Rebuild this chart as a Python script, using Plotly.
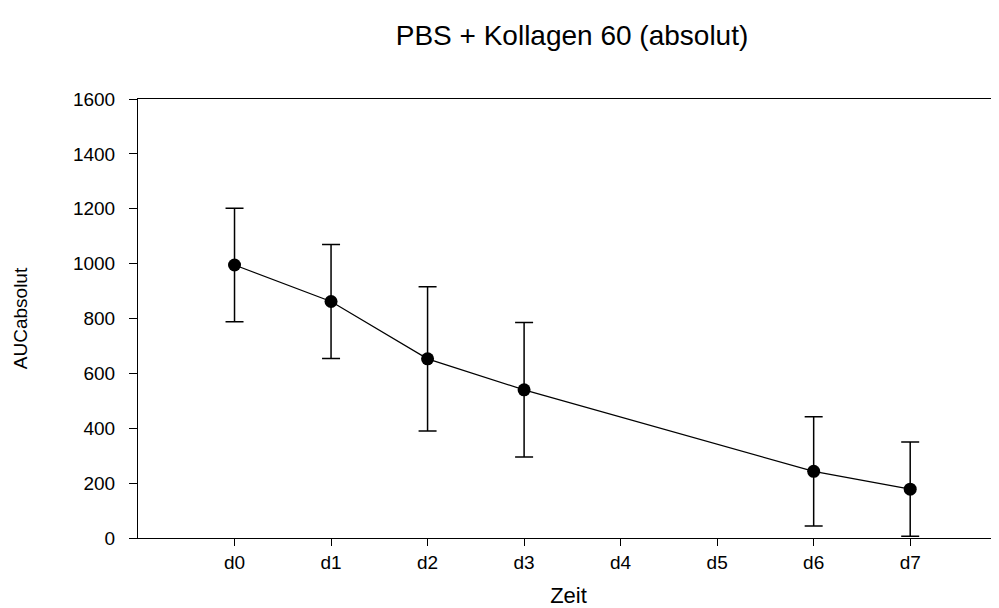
import plotly.graph_objects as go

categories = ["d0", "d1", "d2", "d3", "d4", "d5", "d6", "d7"]
auc_mean = [995, 862, 653, 540, None, None, 243, 178]
auc_err = [207, 208, 263, 245, None, None, 199, 172]
y_ticks = [0, 200, 400, 600, 800, 1000, 1200, 1400, 1600]

FONT = "Liberation Sans, Arial, sans-serif"
W, H = 991, 600

fig = go.Figure()
fig.add_trace(go.Scatter(
    x=categories, y=auc_mean,
    mode="lines+markers",
    connectgaps=True,
    line=dict(color="black", width=1.2),
    marker=dict(color="black", size=13, symbol="circle"),
    error_y=dict(type="data", array=auc_err, visible=True,
                 color="black", thickness=1.5, width=9),
    showlegend=False,
))

fig.update_layout(
    width=W, height=H,
    margin=dict(l=130, r=0, t=91, b=70),
    paper_bgcolor="white", plot_bgcolor="white",
    font=dict(family=FONT, color="black"),
    title=dict(text="PBS + Kollagen 60 (absolut)", x=564 / W, xanchor="center", xref="container",
               y=1 - 27 / H, yanchor="middle", yref="container",
               font=dict(size=28, family=FONT, color="black")),
)
fig.update_xaxes(
    type="category", categoryorder="array", categoryarray=categories,
    range=[-1.0, 7.92],
    showline=True, linecolor="black", linewidth=1, mirror=True,
    showgrid=False, zeroline=False,
    ticks="outside", ticklen=7, tickcolor="black", tickwidth=1,
    tickfont=dict(size=19, family=FONT, color="black"),
    title=dict(text="Zeit", font=dict(size=22, family=FONT, color="black"), standoff=17),
)
fig.update_yaxes(
    range=[0, 1600], tickvals=y_ticks,
    showline=True, linecolor="black", linewidth=1,
    showgrid=False, zeroline=False,
    ticks="outside", ticklen=8, tickcolor="black", tickwidth=1,
    ticklabelstandoff=10,
    tickfont=dict(size=19, family=FONT, color="black"),
    title=dict(text="AUCabsolut", font=dict(size=19, family=FONT, color="black"), standoff=40),
)

fig.write_html("out.html")
